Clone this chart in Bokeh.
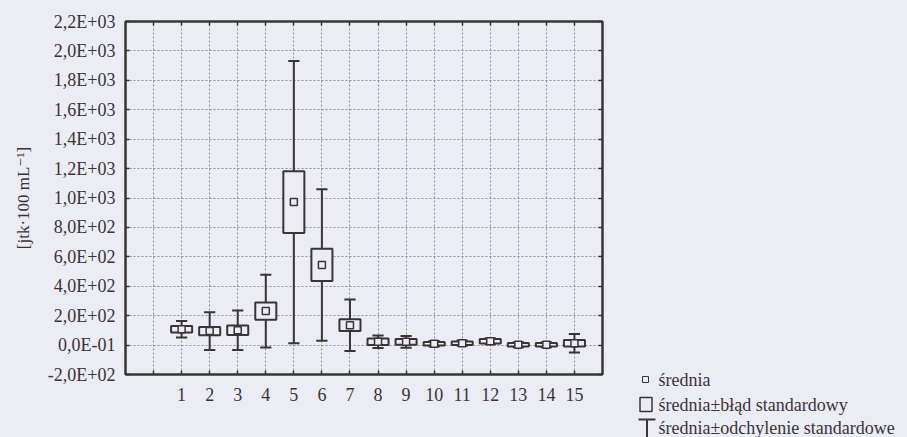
from bokeh.plotting import figure
from bokeh.models import Range1d, FixedTicker, LinearAxis, Label, Spacer, CustomLabelingPolicy
from bokeh.layouts import row, column
from bokeh.embed import file_html
from bokeh.resources import INLINE
from bokeh.core.properties import value

# ---- data ----
stations = list(range(1, 16))
means = [108, 95, 101, 231, 972, 545, 135, 23, 22, 9, 13, 26, 3, 3, 13]
std_err = [22, 28, 32, 59, 210, 110, 40, 22, 20, 12, 12, 15, 12, 12, 22]
std_dev = [56, 128, 134, 248, 960, 515, 175, 42, 40, 18, 18, 20, 17, 17, 63]

x_ticks = list(range(0, 16))
x_tick_labels = [""] + [str(s) for s in stations]
y_ticks = [-200, 0, 200, 400, 600, 800, 1000, 1200, 1400, 1600, 1800, 2000, 2200]
y_tick_labels = ["-2,0E+02", "0,0E-01", "2,0E+02", "4,0E+02", "6,0E+02", "8,0E+02",
                 "1,0E+03", "1,2E+03", "1,4E+03", "1,6E+03", "1,8E+03", "2,0E+03", "2,2E+03"]
y_label = "[jtk·100 mL⁻¹]"
x_label = "Stacje badawcze"
legend_labels = ["średnia", "średnia±błąd standardowy", "średnia±odchylenie standardowe"]

# ---- style ----
BG = "#ebecf4"
INK = "#3b3434"
GRID = "#8f8f9c"
FONT = "'Liberation Serif', 'DejaVu Serif', 'Times New Roman', serif"

p = figure(width=635, height=437, x_range=Range1d(-1, 16), y_range=Range1d(-200, 2200),
           output_backend="svg", toolbar_location=None,
           min_border_left=125, min_border_right=33, min_border_top=21, min_border_bottom=63,
           background_fill_color=BG, border_fill_color=BG)
p.outline_line_color = INK
p.outline_line_width = 2

def style_axis(ax, labels=True):
    ax.axis_line_color = INK
    ax.axis_line_width = 2
    ax.major_tick_in = 4
    ax.major_tick_out = 0
    ax.major_tick_line_color = INK
    ax.major_tick_line_width = 1.5
    ax.minor_tick_line_color = None
    ax.major_label_text_font = FONT
    ax.major_label_text_color = INK
    if labels:
        ax.major_label_text_font_size = "18px"
    else:
        ax.major_label_text_font_size = "10px"
        ax.major_label_standoff = 0
        ax.major_label_policy = CustomLabelingPolicy(code="return []")

xax = p.xaxis[0]
xax.ticker = FixedTicker(ticks=x_ticks)
xax.major_label_overrides = {t: l for t, l in zip(x_ticks, x_tick_labels)}
style_axis(xax)
xax.major_label_standoff = 13

yax = p.yaxis[0]
yax.ticker = FixedTicker(ticks=y_ticks)
yax.major_label_overrides = {t: l for t, l in zip(y_ticks, y_tick_labels)}
style_axis(yax)
yax.major_label_standoff = 10
yax.axis_label = y_label
yax.axis_label_text_font = FONT
yax.axis_label_text_font_size = "17px"
yax.axis_label_text_font_style = "normal"
yax.axis_label_text_color = INK
yax.axis_label_standoff = 12

top = LinearAxis(ticker=FixedTicker(ticks=x_ticks))
style_axis(top, labels=False)
right = LinearAxis(ticker=FixedTicker(ticks=y_ticks))
style_axis(right, labels=False)
p.add_layout(top, "above")
p.add_layout(right, "right")

p.xgrid.grid_line_color = GRID
p.xgrid.grid_line_dash = "2 2"
p.xgrid.grid_line_width = 1
p.ygrid.grid_line_color = GRID
p.ygrid.grid_line_dash = "2 2"
p.ygrid.grid_line_width = 1

# ---- glyphs ----
box_half = 0.375
cap_half = 0.2
lo_sd = [m - s for m, s in zip(means, std_dev)]
hi_sd = [m + s for m, s in zip(means, std_dev)]
lo_se = [m - s for m, s in zip(means, std_err)]
hi_se = [m + s for m, s in zip(means, std_err)]

p.segment(x0=stations, y0=lo_sd, x1=stations, y1=hi_sd, line_color=INK, line_width=2)
p.segment(x0=[s - cap_half for s in stations], y0=hi_sd, x1=[s + cap_half for s in stations],
          y1=hi_sd, line_color=INK, line_width=2)
p.segment(x0=[s - cap_half for s in stations], y0=lo_sd, x1=[s + cap_half for s in stations],
          y1=lo_sd, line_color=INK, line_width=2)
p.quad(left=[s - box_half for s in stations], right=[s + box_half for s in stations],
       bottom=lo_se, top=hi_se, fill_color=BG, line_color=INK, line_width=2)
p.scatter(x=stations, y=means, marker="square", size=7, fill_color=BG, line_color=INK,
          line_width=1.5)

p.add_layout(Label(x=13.33, y=-545, text=x_label, text_font=FONT, text_font_size="19px",
                   text_color=INK, text_align="center", text_baseline="middle"))

# ---- legend panel ----
lg = figure(width=272, height=72, x_range=Range1d(0, 272), y_range=Range1d(0, 72),
            output_backend="svg", toolbar_location=None, x_axis_type=None, y_axis_type=None,
            min_border=0, background_fill_color=BG, border_fill_color=BG)
lg.outline_line_color = None
lg.grid.visible = False
lg.scatter(x=[10], y=[58], marker="square", size=6, fill_color=BG, line_color=INK, line_width=1)
lg.quad(left=[4.5], right=[16.5], bottom=[26], top=[40], fill_color=BG, line_color=INK,
        line_width=1.5)
lg.segment(x0=[3], y0=[18], x1=[20], y1=[18], line_color=INK, line_width=2)
lg.segment(x0=[11.5], y0=[18], x1=[11.5], y1=[-5], line_color=INK, line_width=2)
lg.text(x=[23, 23, 23], y=[58, 33, 10], text=legend_labels, text_font=value(FONT),
        text_font_size="18px", text_baseline="middle", text_color=INK)

layout = row(p, column(Spacer(width=272, height=365, background=BG), lg), background=BG)
open("out.html", "w").write(file_html(layout, INLINE))
